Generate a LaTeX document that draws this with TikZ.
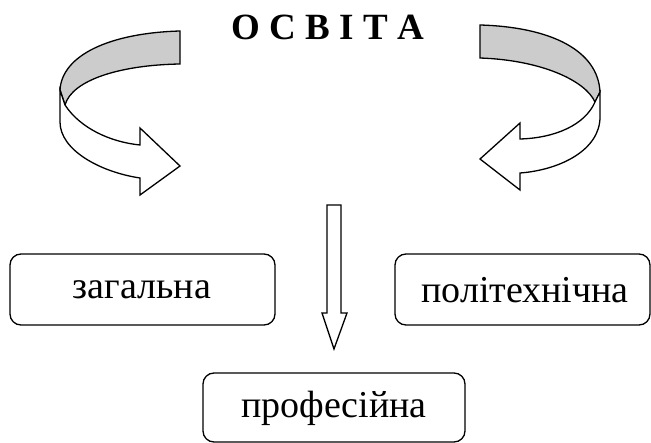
\documentclass[tikz,border=0pt]{standalone}
\usepackage{fontspec}
\setmainfont{Liberation Serif}
\begin{document}
\begin{tikzpicture}[x=1pt,y=-1pt,line join=miter,
  outl/.style={draw=black,line width=1.3pt},
  band/.style={outl,fill=bandgrey},
  front/.style={outl,fill=white},
  labelbox/.style={draw=black,line width=1.3pt,rounded corners=11pt},
  lbl/.style={font=\fontsize{38}{42}\selectfont,inner sep=0pt}]
\definecolor{bandgrey}{HTML}{CCCCCC}
\useasboundingbox (0,0) rectangle (651,443);
% title
\node[font=\fontsize{37}{42}\selectfont\bfseries,inner sep=0pt] (title) at (328,27) {О С В І Т А};
% left curved arrow
\path[band] (180,31) .. controls (110,33) and (62,55) .. (60,90)
  -- (65,105) .. controls (72,80) and (120,65) .. (180,64) -- cycle;
\path[front] (60,90) -- (60,122) .. controls (60,150) and (100,172) .. (140,178)
  -- (140,195) -- (180,166) -- (140,128) -- (140,145)
  .. controls (110,142) and (80,128) .. (65,105) -- cycle;
% right curved arrow
\path[band] (480,25) .. controls (550,27) and (598,50) .. (600,92)
  -- (595,102) .. controls (585,80) and (540,60) .. (480,58) -- cycle;
\path[front] (600,92) -- (600,117) .. controls (600,150) and (560,170) .. (520,173)
  -- (520,190) -- (480,159) -- (520,123) -- (520,139)
  .. controls (555,138) and (585,125) .. (595,102) -- cycle;
% down arrow
\path[front] (327,205) -- (341,205) -- (341,313) -- (347,313) -- (334,349)
  -- (322,313) -- (327,313) -- cycle;
% boxes
\draw[labelbox] (10,254) rectangle (275,325);
\node[lbl] (zag) at (142,290) {загальна};
\draw[labelbox] (395,254) rectangle (650,325);
\node[lbl] (pol) at (525,290) {політехнічна};
\draw[labelbox] (203,373) rectangle (465,442);
\node[lbl] (prof) at (334,408) {професійна};
\end{tikzpicture}
\end{document}
